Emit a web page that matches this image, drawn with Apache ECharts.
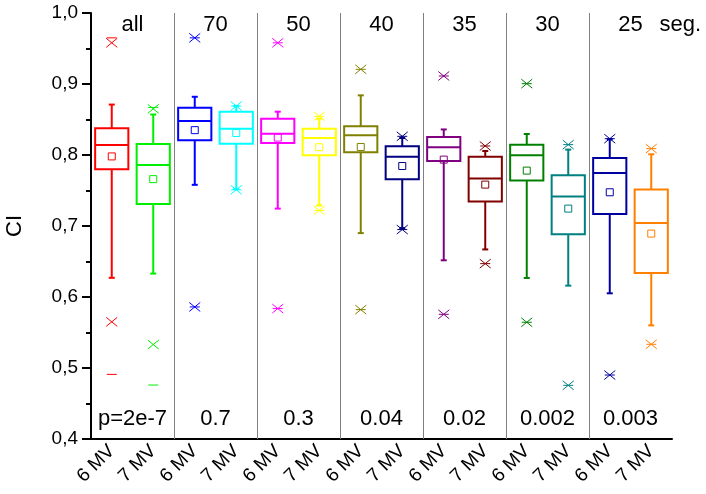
<!DOCTYPE html>
<html>
<head>
<meta charset="utf-8">
<script src="https://cdn.jsdelivr.net/npm/echarts@6/dist/echarts.min.js"></script>
<style>html,body{margin:0;padding:0;background:#fff}#c{width:706px;height:494px}</style>
</head>
<body>
<div id="c"></div>
<script>
// ---- data ----
const categories = ['6 MV','7 MV','6 MV','7 MV','6 MV','7 MV','6 MV','7 MV','6 MV','7 MV','6 MV','7 MV','6 MV','7 MV'];
const groupNames = ['all','70','50','40','35','30','25'];
const groupUnit = 'seg.';
const pValues = ['p=2e-7','0.7','0.3','0.04','0.02','0.002','0.003'];
const yTicks = [0.4, 0.5, 0.6, 0.7, 0.8, 0.9, 1.0];

const whiskerLow  = [0.627, 0.633, 0.758, 0.752, 0.7245, 0.729, 0.690, 0.697, 0.6517, 0.667, 0.6268, 0.616, 0.6052, 0.560];
const q1          = [0.780, 0.731, 0.8207, 0.816, 0.817, 0.7996, 0.8038, 0.7658, 0.7915, 0.7344, 0.764, 0.6883, 0.7169, 0.6338];
const median      = [0.814, 0.786, 0.848, 0.837, 0.830, 0.824, 0.8277, 0.7977, 0.811, 0.7668, 0.7996, 0.7414, 0.7746, 0.7042];
const q3          = [0.8376, 0.8155, 0.8667, 0.861, 0.851, 0.837, 0.8404, 0.8123, 0.8254, 0.7977, 0.8146, 0.7714, 0.7958, 0.7513];
const whiskerHigh = [0.871, 0.857, 0.882, 0.869, 0.861, 0.851, 0.884, 0.824, 0.836, 0.8056, 0.8296, 0.8076, 0.822, 0.801];
const mean        = [0.798, 0.766, 0.835, 0.831, 0.8245, 0.811, 0.8113, 0.7845, 0.7935, 0.7583, 0.778, 0.7245, 0.7475, 0.6893];
const pct1        = [0.565, 0.533, 0.586, 0.751, 0.5837, 0.722, 0.5822, 0.695, 0.5756, 0.647, 0.5644, 0.4756, 0.4901, 0.5334];
const pct99       = [0.958, 0.865, 0.965, 0.869, 0.958, 0.8545, 0.9207, 0.8263, 0.9113, 0.8127, 0.9005, 0.8146, 0.823, 0.809];
const minVal      = [0.491, 0.476, 0.586, 0.751, 0.5837, 0.722, 0.5822, 0.695, 0.5756, 0.647, 0.5644, 0.4756, 0.4901, 0.5334];
const maxVal      = [0.965, 0.867, 0.965, 0.869, 0.958, 0.8545, 0.9207, 0.8263, 0.9113, 0.8127, 0.9005, 0.8146, 0.823, 0.809];

// ---- styles ----
const colors = ['#ff0000','#00ee00','#0000ff','#00ffff','#ff00ff','#ffff00','#808000','#000080','#800080','#800000','#008000','#008080','#0000a0','#ff8000'];
const FONT = 'Liberation Sans, Arial, sans-serif';

const boxData = categories.map((c, i) => [i, whiskerLow[i], q1[i], median[i], q3[i], whiskerHigh[i], mean[i], pct1[i], pct99[i], minVal[i], maxVal[i]]);
const groupData = groupNames.map((g, i) => [i]);

function renderBox(params, api) {
  const i = api.value(0);
  const col = colors[i];
  const x = api.coord([i, 0.5])[0];
  const Y = v => api.coord([i, v])[1];
  const bw = api.size([1, 0])[0] * 0.8;
  const wl = api.value(1), b1 = api.value(2), md = api.value(3), b3 = api.value(4), wh = api.value(5);
  const mn = api.value(6), p1 = api.value(7), p99 = api.value(8), lo = api.value(9), hi = api.value(10);
  const s2 = { stroke: col, lineWidth: 2, fill: null };
  const s1 = { stroke: col, lineWidth: 1, fill: null };
  const ch = [];
  const line = (x1, y1, x2, y2, st) => ch.push({ type: 'line', shape: { x1, y1, x2, y2 }, style: st });
  line(x, Y(b3), x, Y(wh), s2);
  line(x, Y(b1), x, Y(wl), s2);
  line(x - 3, Y(wh), x + 3, Y(wh), s2);
  line(x - 3, Y(wl), x + 3, Y(wl), s2);
  ch.push({ type: 'rect', shape: { x: x - bw / 2, y: Y(b3), width: bw, height: Y(b1) - Y(b3) }, style: s2 });
  line(x - bw / 2, Y(md), x + bw / 2, Y(md), s2);
  ch.push({ type: 'rect', shape: { x: x - 3.5, y: Y(mn) - 3.5, width: 7, height: 7 }, style: s1 });
  [p1, p99].forEach(v => {
    const yy = Y(v);
    line(x - 5.5, yy - 4.5, x + 5.5, yy + 4.5, s1);
    line(x - 5.5, yy + 4.5, x + 5.5, yy - 4.5, s1);
  });
  [lo, hi].forEach(v => { const yy = Y(v); line(x - 5, yy, x + 5, yy, s1); });
  return { type: 'group', children: ch };
}

function renderGroup(params, api) {
  const g = api.value(0);
  const cs = params.coordSys;
  const band = api.size([1, 0])[0];
  const xa = api.coord([2 * g, 0.5])[0];
  const xb = api.coord([2 * g + 1, 0.5])[0];
  const cx = (xa + xb) / 2;
  const ch = [];
  if (g > 0) {
    const sx = Math.round(xa - band / 2) + 0.5;
    ch.push({ type: 'line', shape: { x1: sx, y1: cs.y, x2: sx, y2: cs.y + cs.height }, style: { stroke: '#808080', lineWidth: 1 } });
  }
  const tStyle = (text, x, y, align) => ({ type: 'text', style: { text, x, y, align, verticalAlign: 'middle', font: '22px ' + FONT, fill: '#000' } });
  ch.push(tStyle(groupNames[g], cx, cs.y + 12, 'center'));
  if (g === groupNames.length - 1) ch.push(tStyle(groupUnit, cx + 29, cs.y + 12, 'left'));
  ch.push(tStyle(pValues[g], cx, cs.y + cs.height - 20, 'center'));
  return { type: 'group', children: ch };
}

const chart = echarts.init(document.getElementById('c'), null, { renderer: 'canvas' });
chart.setOption({
  animation: false,
  backgroundColor: '#fff',
  grid: { left: 91, right: 34, top: 13, bottom: 55, containLabel: false, outerBoundsMode: 'none' },
  xAxis: {
    type: 'category',
    data: categories,
    boundaryGap: true,
    axisLine: { lineStyle: { color: '#000', width: 2 } },
    axisTick: { alignWithLabel: true, length: 9, lineStyle: { color: '#000', width: 2 } },
    axisLabel: { rotate: 45, margin: 9, color: '#000', fontSize: 19, fontFamily: FONT, interval: 0 },
    splitLine: { show: false }
  },
  yAxis: {
    type: 'value',
    min: yTicks[0], max: yTicks[yTicks.length - 1], interval: 0.1,
    name: 'CI', nameLocation: 'middle', nameGap: 65,
    nameTextStyle: { fontSize: 22, fontFamily: FONT, color: '#000' },
    axisLine: { show: true, lineStyle: { color: '#000', width: 2 } },
    axisTick: { show: true, length: 9, lineStyle: { color: '#000', width: 2 } },
    minorTick: { show: true, splitNumber: 2, length: 5, lineStyle: { color: '#000', width: 2 } },
    axisLabel: { margin: 13, color: '#000', fontSize: 19, fontFamily: FONT, formatter: v => v.toFixed(1).replace('.', ',') },
    splitLine: { show: false }
  },
  series: [
    { type: 'custom', renderItem: renderGroup, data: groupData, encode: { x: 0 }, silent: true, clip: false, z: 1 },
    { type: 'custom', renderItem: renderBox, data: boxData, encode: { x: 0, y: [1,2,3,4,5,6,7,8,9,10] }, z: 2 }
  ]
});
</script>
</body>
</html>
